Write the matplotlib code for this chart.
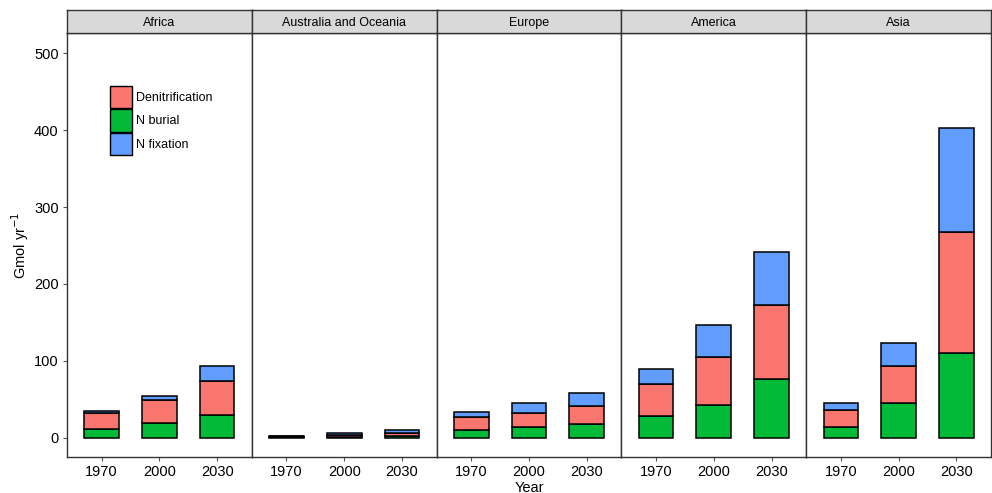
import matplotlib
matplotlib.use("Agg")
import matplotlib.pyplot as plt
from matplotlib.patches import Patch
import numpy as np

plt.rcParams['font.family'] = ['Liberation Sans', 'DejaVu Sans']

regions = ["Africa", "Australia and Oceania", "Europe", "America", "Asia"]
years = ["1970", "2000", "2030"]

# values per region, order 1970, 2000, 2030 (Gmol/yr)
n_burial = {
    "Africa": [12, 19, 30],
    "Australia and Oceania": [1, 1.5, 2],
    "Europe": [11, 14, 18],
    "America": [29, 43, 76],
    "Asia": [14, 46, 111],
}
denitrification = {
    "Africa": [20, 30, 44],
    "Australia and Oceania": [1, 2.5, 4.5],
    "Europe": [16, 19, 23],
    "America": [41, 62, 97],
    "Asia": [22, 47, 157],
}
n_fixation = {
    "Africa": [3.5, 6, 19],
    "Australia and Oceania": [0.7, 2, 4.5],
    "Europe": [7, 13, 18],
    "America": [19, 42, 69],
    "Asia": [9.5, 31, 135],
}

c_den = "#F8766D"
c_bur = "#00BA38"
c_fix = "#619CFF"

W, H = 992, 493
fig = plt.figure(figsize=(W / 100, H / 100), dpi=100)

left = 67
right = 991
pw = (right - left) / len(regions)
top_strip = 10
strip_bot = 33
panel_bot = 457

ymin, ymax = -24.7, 526
x = np.arange(len(years))

for i, reg in enumerate(regions):
    x0 = left + i * pw
    ax = fig.add_axes([x0 / W, 1 - panel_bot / H, pw / W, (panel_bot - strip_bot) / H])
    b = np.array(n_burial[reg])
    d = np.array(denitrification[reg])
    f = np.array(n_fixation[reg])
    ax.bar(x, b, 0.6, color=c_bur, edgecolor="black", linewidth=1.1)
    ax.bar(x, d, 0.6, bottom=b, color=c_den, edgecolor="black", linewidth=1.1)
    ax.bar(x, f, 0.6, bottom=b + d, color=c_fix, edgecolor="black", linewidth=1.1)
    ax.set_xlim(-0.6, 2.6)
    ax.set_ylim(ymin, ymax)
    ax.set_xticks(x)
    ax.set_xticklabels(years, fontsize=10.5)
    ax.set_yticks([0, 100, 200, 300, 400, 500])
    ax.tick_params(length=3, color="#555555", labelcolor="black", pad=3)
    for s in ax.spines.values():
        s.set_color("#333333")
        s.set_linewidth(1.0)
    if i == 0:
        ax.tick_params(axis="y", labelsize=10.5)
        ax.set_ylabel("Gmol yr$^{-1}$", fontsize=10.5, labelpad=2)
    else:
        ax.tick_params(axis="y", left=False, labelleft=False)
    if i == 2:
        ax.set_xlabel("Year", fontsize=10.5, labelpad=1)

    # strip
    sax = fig.add_axes([x0 / W, 1 - strip_bot / H, pw / W, (strip_bot - top_strip) / H])
    sax.set_facecolor("#D9D9D9")
    sax.set_xticks([])
    sax.set_yticks([])
    for s in sax.spines.values():
        s.set_color("#333333")
        s.set_linewidth(1.0)
    sax.text(0.5, 0.42, reg, ha="center", va="center", fontsize=9, transform=sax.transAxes)

    if i == 0:
        handles = [
            Patch(facecolor=c_den, edgecolor="black", label="Denitrification"),
            Patch(facecolor=c_bur, edgecolor="black", label="N burial"),
            Patch(facecolor=c_fix, edgecolor="black", label="N fixation"),
        ]
        ax.legend(handles=handles, loc="upper left", bbox_to_anchor=(0.233, 0.875),
                  frameon=False, fontsize=9, handlelength=1.75, handleheight=2.35,
                  handletextpad=0.3, labelspacing=0.1, borderaxespad=0, borderpad=0)

fig.savefig("out.png", dpi=100)
